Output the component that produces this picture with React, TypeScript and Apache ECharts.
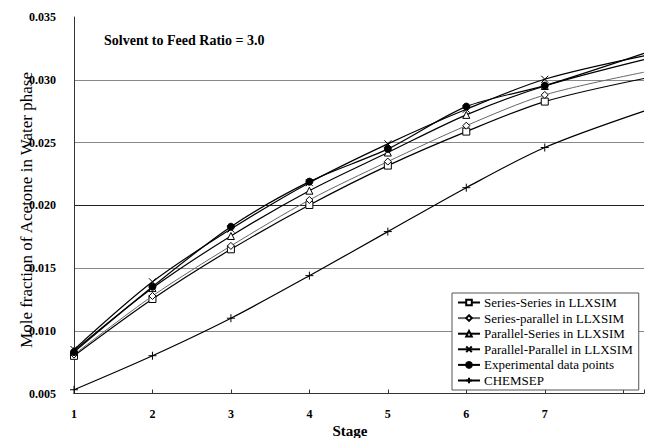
import React, { useEffect, useRef } from "react";
import * as echarts from "echarts";

const stages = [1, 2, 3, 4, 5, 6, 7];
const edgeX = 8.265;
const seriesSeries = [0.0080, 0.01253, 0.01649, 0.02002, 0.02316, 0.02587, 0.02826];
const seriesParallel = [0.0081, 0.01277, 0.01676, 0.02042, 0.02348, 0.02634, 0.02879];
const parallelSeries = [0.0084, 0.01340, 0.01755, 0.02116, 0.02420, 0.02720, 0.02950];
const parallelParallel = [0.0085, 0.01390, 0.01810, 0.02180, 0.02489, 0.02765, 0.03004];
const experimental = [0.0083, 0.01351, 0.01829, 0.02188, 0.02449, 0.02786, 0.02953];
const chemsep = [0.0053, 0.00801, 0.0110, 0.01439, 0.0179, 0.0214, 0.0246];
// values where each curve leaves the plot at its right edge
const edgeValues = [0.0301, 0.0306, 0.0316, 0.0319, 0.0321, 0.0275];
const names = [
  "Series-Series in LLXSIM",
  "Series-parallel in LLXSIM",
  "Parallel-Series in LLXSIM",
  "Parallel-Parallel in LLXSIM",
  "Experimental data points",
  "CHEMSEP",
];

const FONT = "Liberation Serif";

export default function App() {
  const ref = useRef<HTMLDivElement>(null);
  useEffect(() => {
    document.body.style.margin = "0";
    const chart = echarts.init(ref.current!, null, { renderer: "svg" });
    const all = [seriesSeries, seriesParallel, parallelSeries, parallelParallel, experimental, chemsep];
    const symbols = [
      "rect",
      "diamond",
      "triangle",
      "path://M0 0L10 10M10 0L0 10",
      "circle",
      "path://M5 0L5 10M0 5L10 5",
    ];
    const sizes = [7, 7, 7, 7, 7, 8];
    const fills = ["#fff", "#fff", "#fff", "none", "#000", "none"];
    const lineColors = ["#000", "#666", "#000", "#000", "#000", "#000"];
    const series = all.map((vals, i) => ({
      name: names[i],
      type: "line",
      smooth: 0.3,
      symbol: symbols[i],
      symbolSize: sizes[i],
      showAllSymbol: true,
      z: 2 + i,
      lineStyle: { color: lineColors[i], width: i === 1 ? 1 : 1.2 },
      itemStyle: { color: fills[i], borderColor: "#000", borderWidth: 1 },
      data: [
        ...vals.map((v, k) => [stages[k], v]),
        { value: [edgeX, edgeValues[i]], symbol: "none" },
      ],
    }));
    chart.setOption({
      animation: false,
      grid: { left: 74, top: 17, right: 0, bottom: 44.5 },
      title: {
        text: "Solvent to Feed Ratio = 3.0",
        left: 99,
        top: 28,
        textStyle: { fontFamily: FONT, fontSize: 14, fontWeight: "bold", color: "#000" },
      },
      legend: {
        orient: "vertical",
        left: 452,
        top: 293,
        itemWidth: 22,
        itemHeight: 7,
        itemGap: 2.6,
        padding: [3, 6, 3, 5],
        borderColor: "#555",
        borderWidth: 1,
        backgroundColor: "#fff",
        textStyle: { fontFamily: FONT, fontSize: 13, color: "#000", padding: [0, 0, 0, -1] },
        data: names,
      },
      xAxis: {
        type: "value",
        min: 1,
        max: edgeX,
        interval: 1,
        axisLine: { show: true, lineStyle: { color: "#333", width: 1 } },
        axisTick: { show: true, inside: true, length: 4, lineStyle: { color: "#333" } },
        splitLine: { show: false },
        axisLabel: {
          margin: 14,
          fontFamily: FONT,
          fontSize: 12,
          fontWeight: "bold",
          color: "#000",
          formatter: (v: number) => (Number.isInteger(v) && v <= 7 ? String(v) : ""),
        },
      },
      yAxis: {
        type: "value",
        min: 0.005,
        max: 0.035,
        interval: 0.005,
        axisLine: { show: true, lineStyle: { color: "#333", width: 1 } },
        axisTick: { show: false },
        splitLine: {
          show: true,
          lineStyle: {
            color: ["#888", "#888", "#888", "#222", "#888", "#888", "rgba(0,0,0,0)"],
            width: 1,
          },
        },
        axisLabel: {
          margin: 18,
          fontFamily: FONT,
          fontSize: 12,
          fontWeight: "bold",
          color: "#000",
          formatter: (v: number) => v.toFixed(3),
        },
      },
      graphic: [
        {
          type: "text",
          x: 26,
          y: 210,
          rotation: Math.PI / 2,
          style: {
            text: "Mole fraction of Acetone in Water phase",
            fontFamily: FONT,
            fontSize: 17,
            fill: "#000",
            textAlign: "center",
            textVerticalAlign: "middle",
          },
        },
        {
          type: "text",
          x: 350,
          y: 431,
          style: {
            text: "Stage",
            fontFamily: FONT,
            fontSize: 15,
            fontWeight: "bold",
            fill: "#000",
            textAlign: "center",
            textVerticalAlign: "middle",
          },
        },
      ],
      series,
    });
    return () => chart.dispose();
  }, []);
  return <div ref={ref} style={{ width: 647, height: 438 }} />;
}
